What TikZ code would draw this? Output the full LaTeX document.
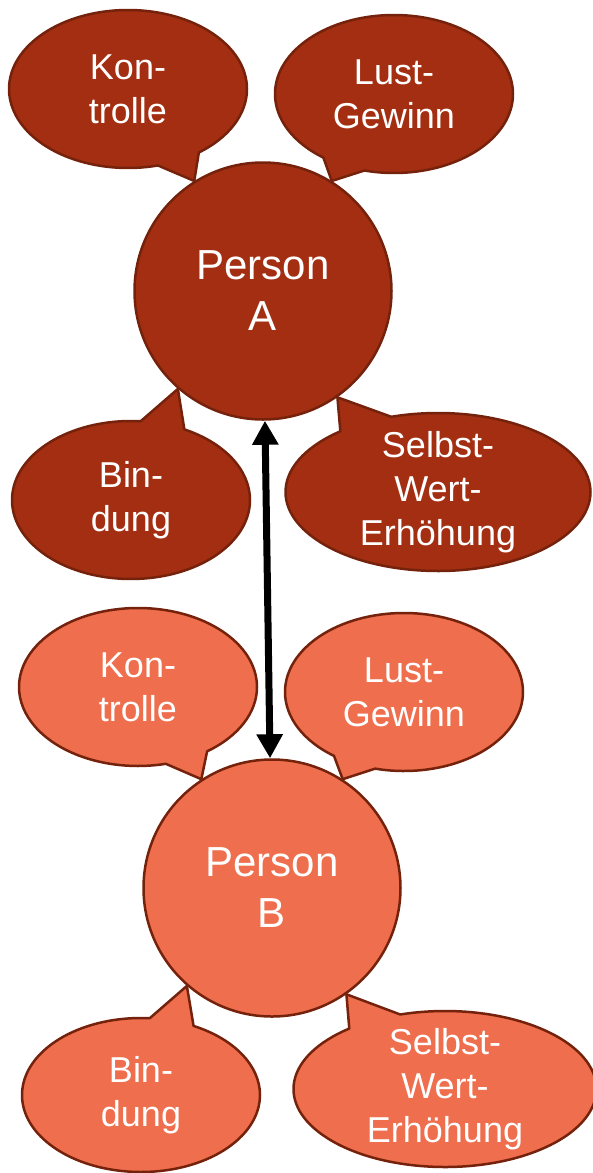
\documentclass[tikz,border=0pt]{standalone}
\usepackage{fontspec}
\setmainfont{Liberation Sans}
\usepackage{tikz}
\usepackage{xcolor}
\usetikzlibrary{positioning,shapes.callouts,arrows.meta}

\definecolor{rustdark}{RGB}{163,46,17}
\definecolor{rustlight}{RGB}{238,110,77}
\definecolor{rustline}{RGB}{117,34,13}

\begin{document}
\begin{tikzpicture}[x=1pt, y=-1pt,
    person/.style={circle, draw=rustline, line width=2.5pt, text=white, minimum size=257pt,
                   inner sep=0pt, align=center, font=\fontsize{42}{51}\selectfont},
    bubble/.style={ellipse callout, draw=rustline, line width=2.5pt, line join=round, text=white,
                   minimum width=238pt, minimum height=158pt, inner sep=-20pt,
                   callout pointer arc=22, align=center, font=\fontsize{36}{44}\selectfont}]
      %\draw [dotted] (0,0) grid [step=50] (593,1173);
      \useasboundingbox (0,0) rectangle (593,1173);
      \node [person, fill=rustdark]   (pa) at (263, 291) {Person\\A};
      \node [person, fill=rustlight]  (pb) at (272, 888) {Person\\B};
      \node [bubble, fill=rustdark, callout absolute pointer={(pa.122)}]  (ka) at (128,  89) {Kon-\\trolle};
      \node [bubble, fill=rustdark, callout absolute pointer={(pa.58)}]   (la) at (394,  94) {Lust-\\Gewinn};
      \node [bubble, fill=rustdark, callout absolute pointer={(pa.229)}]  (ba) at (131, 500) {Bin-\\dung};
      \node [bubble, fill=rustdark, minimum width=305pt,
             callout absolute pointer={(pa.305)}]                          (sa) at (438, 492) {Selbst-\\Wert-\\Erhöhung};
      \node [bubble, fill=rustlight, callout absolute pointer={(pb.123)}] (kb) at (138, 687) {Kon-\\trolle};
      \node [bubble, fill=rustlight, callout absolute pointer={(pb.57)}]  (lb) at (404, 692) {Lust-\\Gewinn};
      \node [bubble, fill=rustlight, minimum height=154pt,
             callout absolute pointer={(pb.229)}]                          (bb) at (141,1095) {Bin-\\dung};
      \node [bubble, fill=rustlight, minimum width=303pt, minimum height=156pt,
             callout absolute pointer={(pb.305)}]                          (sb) at (445,1089) {Selbst-\\Wert-\\Erhöhung};
      \draw [{Triangle[width=25pt,length=24pt]}-{Triangle[width=25pt,length=24pt]}, line width=7pt] (pa) -- (pb);
\end{tikzpicture}
\end{document}
